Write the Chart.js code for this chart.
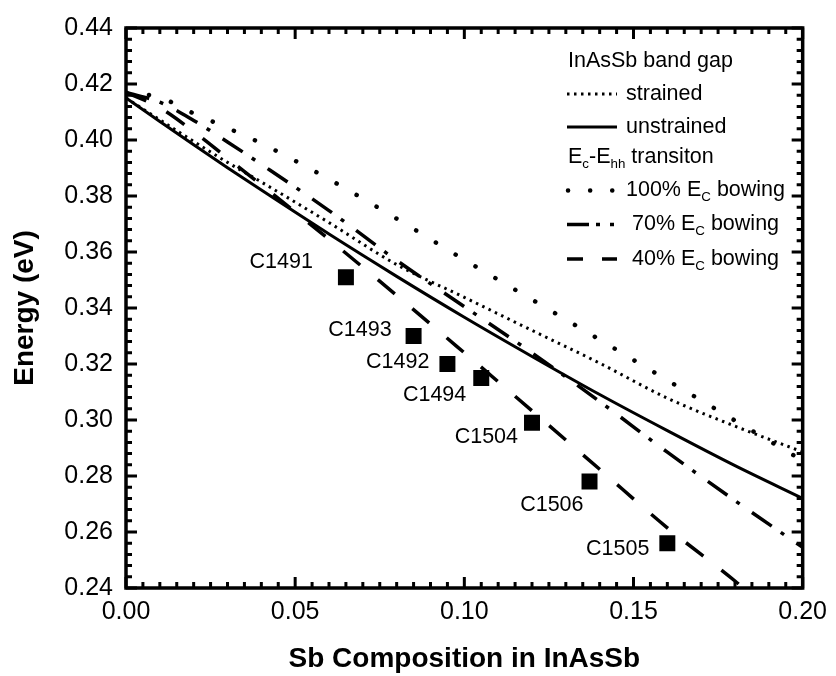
<!DOCTYPE html>
<html>
<head>
<meta charset="utf-8">
<title>InAsSb band gap vs Sb composition</title>
<script src="https://cdn.jsdelivr.net/npm/chart.js@4"></script>
<style>
  html, body { margin: 0; padding: 0; background: #fff; }
  #wrap { width: 836px; height: 676px; }
</style>
</head>
<body>
<div id="wrap"><canvas id="energy-chart" width="836" height="676"></canvas></div>
<script>
// Sb composition grid the curves were read on
const sbGrid = [0, 0.01, 0.02, 0.03, 0.04, 0.06, 0.08, 0.10, 0.12, 0.14, 0.16, 0.18, 0.20];

// InAsSb band gap (eV)
const strainedGap   = [0.415, 0.4072, 0.3995, 0.392, 0.385, 0.3705, 0.3555, 0.3438, 0.332, 0.3203, 0.3078, 0.2978, 0.2886];
const unstrainedGap = [0.415, 0.4066, 0.3983, 0.3901, 0.3821, 0.3664, 0.3513, 0.3367, 0.3227, 0.3091, 0.2962, 0.2837, 0.272];

// Ec-Ehh transition (eV)
const bowing100 = [0.417, 0.4152, 0.4095, 0.4043, 0.3988, 0.386, 0.3719, 0.3572, 0.343, 0.3287, 0.3142, 0.2998, 0.2855];
const bowing70  = [0.417, 0.4135, 0.407, 0.3993, 0.3913, 0.3748, 0.357, 0.3405, 0.324, 0.3066, 0.2885, 0.2712, 0.2545];
const sb40      = [0, 0.01, 0.02, 0.03, 0.04, 0.06, 0.08, 0.10, 0.12, 0.14, 0.16, 0.18, 0.1825];
const bowing40  = [0.417, 0.4115, 0.403, 0.3935, 0.384, 0.3645, 0.3445, 0.324, 0.3033, 0.2824, 0.2615, 0.2425, 0.2399];

// measured samples
const sampleNames  = ['C1491', 'C1493', 'C1492', 'C1494', 'C1504', 'C1506', 'C1505'];
const sampleSb     = [0.065, 0.085, 0.095, 0.105, 0.120, 0.137, 0.160];
const sampleEnergy = [0.351, 0.330, 0.320, 0.315, 0.299, 0.278, 0.256];

// axis ticks
const xTickValues = [0, 0.05, 0.10, 0.15, 0.20];
const xTickLabels = ['0.00', '0.05', '0.10', '0.15', '0.20'];
const yTickValues = [0.24, 0.26, 0.28, 0.30, 0.32, 0.34, 0.36, 0.38, 0.40, 0.42, 0.44];
const yTickLabels = ['0.24', '0.26', '0.28', '0.30', '0.32', '0.34', '0.36', '0.38', '0.40', '0.42', '0.44'];

const FONT = '"Liberation Sans", Arial, Helvetica, sans-serif';
Chart.defaults.font.family = FONT;
Chart.defaults.color = '#000';

const curve = (xs, ys) => xs.map((v, i) => ({ x: v, y: ys[i] }));

function lineSet(label, xs, ys, width, dash, cap) {
  return {
    label: label,
    data: curve(xs, ys),
    borderColor: '#000',
    borderWidth: width,
    borderDash: dash,
    borderCapStyle: cap || 'butt',
    pointRadius: 0,
    pointHoverRadius: 0,
    cubicInterpolationMode: 'monotone',
    fill: false
  };
}

// text with subscripts, parts like [['E'], ['c', true]]
function drawParts(ctx, parts, x, y, size) {
  let cx = x;
  parts.forEach(([t, sub]) => {
    ctx.font = (sub ? size * 0.62 : size) + 'px ' + FONT;
    ctx.fillText(t, cx, sub ? y + size * 0.33 : y);
    cx += ctx.measureText(t).width;
  });
}

// frame with inward ticks on all four sides
const framePlugin = {
  id: 'frame',
  afterDraw(chart) {
    const { ctx, chartArea: a, scales: { x, y } } = chart;
    ctx.save();
    ctx.strokeStyle = '#000';
    ctx.lineWidth = 3;
    ctx.setLineDash([]);
    ctx.beginPath();
    for (let k = 0; k <= 40; k++) {
      const px = x.getPixelForValue(k * 0.005);
      const len = k % 10 === 0 ? 11 : 6;
      ctx.moveTo(px, a.bottom); ctx.lineTo(px, a.bottom - len);
      ctx.moveTo(px, a.top); ctx.lineTo(px, a.top + len);
    }
    for (let k = 0; k <= 50; k++) {
      const py = y.getPixelForValue(0.24 + k * 0.004);
      const len = k % 5 === 0 ? 11 : 6;
      ctx.moveTo(a.left, py); ctx.lineTo(a.left + len, py);
      ctx.moveTo(a.right, py); ctx.lineTo(a.right - len, py);
    }
    ctx.stroke();
    ctx.lineWidth = 3.5;
    ctx.strokeRect(a.left, a.top, a.right - a.left, a.bottom - a.top);
    ctx.restore();
  }
};

// sample names next to the squares
const labelOffsets = [[-33, -15], [-22, -6], [-18, -2], [-15, 17], [-14, 14], [-6, 23], [-18, 6]];
const sampleLabelPlugin = {
  id: 'sampleLabels',
  afterDatasetsDraw(chart) {
    const { ctx } = chart;
    const meta = chart.getDatasetMeta(5);
    ctx.save();
    ctx.fillStyle = '#000';
    ctx.font = '21.5px ' + FONT;
    ctx.textAlign = 'right';
    ctx.textBaseline = 'middle';
    meta.data.forEach((pt, i) => {
      const [dx, dy] = labelOffsets[i];
      ctx.fillText(sampleNames[i], pt.x + dx, pt.y + dy);
    });
    ctx.restore();
  }
};

// hand drawn legend, like the original
const legendPlugin = {
  id: 'bandLegend',
  afterDraw(chart) {
    const { ctx } = chart;
    const size = 21.5;
    const x0 = 567, x1 = 617, tx = 626;
    const rows = [
      { y: 61,  text: [['InAsSb band gap']], head: true },
      { y: 94,  text: [['strained']], w: 3, dash: [2.5, 4.5] },
      { y: 127, text: [['unstrained']], w: 3, dash: [] },
      { y: 157.5, text: [['E'], ['c', true], ['-E'], ['hh', true], [' transiton']], head: true },
      { y: 190.5, text: [['100% E'], ['C', true], [' bowing']], w: 4.5, dash: [0.1, 22], cap: 'round' },
      { y: 224.5, text: [[' 70% E'], ['C', true], [' bowing']], w: 3.5, dash: [22, 7, 4, 10, 4, 10] },
      { y: 259, text: [[' 40% E'], ['C', true], [' bowing']], w: 3.5, dash: [16, 19] }
    ];
    ctx.save();
    ctx.fillStyle = '#000';
    ctx.strokeStyle = '#000';
    ctx.textBaseline = 'middle';
    ctx.textAlign = 'left';
    rows.forEach(r => {
      if (r.head) {
        drawParts(ctx, r.text, 568, r.y, size);
        return;
      }
      ctx.lineWidth = r.w;
      ctx.lineCap = r.cap || 'butt';
      ctx.setLineDash(r.dash);
      ctx.beginPath();
      ctx.moveTo(r.cap ? x0 + 1 : x0, r.y);
      ctx.lineTo(x1, r.y);
      ctx.stroke();
      drawParts(ctx, r.text, tx, r.y, size);
    });
    ctx.restore();
  }
};

new Chart(document.getElementById('energy-chart'), {
  type: 'line',
  data: {
    datasets: [
      lineSet('strained', sbGrid, strainedGap, 3, [2.5, 4.5]),
      lineSet('unstrained', sbGrid, unstrainedGap, 3, []),
      lineSet('100% Ec bowing', sbGrid, bowing100, 4.5, [0.1, 23], 'round'),
      lineSet('70% Ec bowing', sbGrid, bowing70, 3.5, [24, 11, 4, 15]),
      lineSet('40% Ec bowing', sb40, bowing40, 3.5, [22, 23]),
      {
        label: 'samples',
        data: curve(sampleSb, sampleEnergy),
        showLine: false,
        pointStyle: 'rect',
        pointRadius: 11.3,
        pointHoverRadius: 11.3,
        backgroundColor: '#000',
        borderWidth: 0
      }
    ]
  },
  options: {
    responsive: false,
    animation: false,
    events: [],
    layout: { padding: { left: 0, right: 28, top: 19, bottom: 0 } },
    plugins: { legend: { display: false }, tooltip: { enabled: false } },
    scales: {
      x: {
        type: 'linear',
        min: 0,
        max: 0.2,
        afterFit: s => { s.height = 88; },
        afterBuildTicks: s => { s.ticks = xTickValues.map(v => ({ value: v })); },
        grid: { display: false, drawTicks: false },
        border: { display: false },
        ticks: {
          padding: 9,
          font: { size: 25 },
          color: '#000',
          autoSkip: false,
          maxRotation: 0,
          callback: (v, i) => xTickLabels[i]
        },
        title: {
          display: true,
          text: 'Sb Composition in InAsSb',
          font: { size: 28, weight: 'bold' },
          color: '#000',
          padding: { top: 0, bottom: 0 }
        }
      },
      y: {
        type: 'linear',
        min: 0.24,
        max: 0.44,
        afterFit: s => { s.width = 126; },
        afterBuildTicks: s => { s.ticks = yTickValues.map(v => ({ value: v })); },
        grid: { display: false, drawTicks: false },
        border: { display: false },
        ticks: {
          padding: 13,
          font: { size: 25 },
          color: '#000',
          autoSkip: false,
          callback: (v, i) => yTickLabels[i]
        },
        title: {
          display: true,
          text: 'Energy (eV)',
          font: { size: 28, weight: 'bold' },
          color: '#000',
          padding: { top: 8, bottom: 0 }
        }
      }
    }
  },
  plugins: [framePlugin, sampleLabelPlugin, legendPlugin]
});
</script>
</body>
</html>
